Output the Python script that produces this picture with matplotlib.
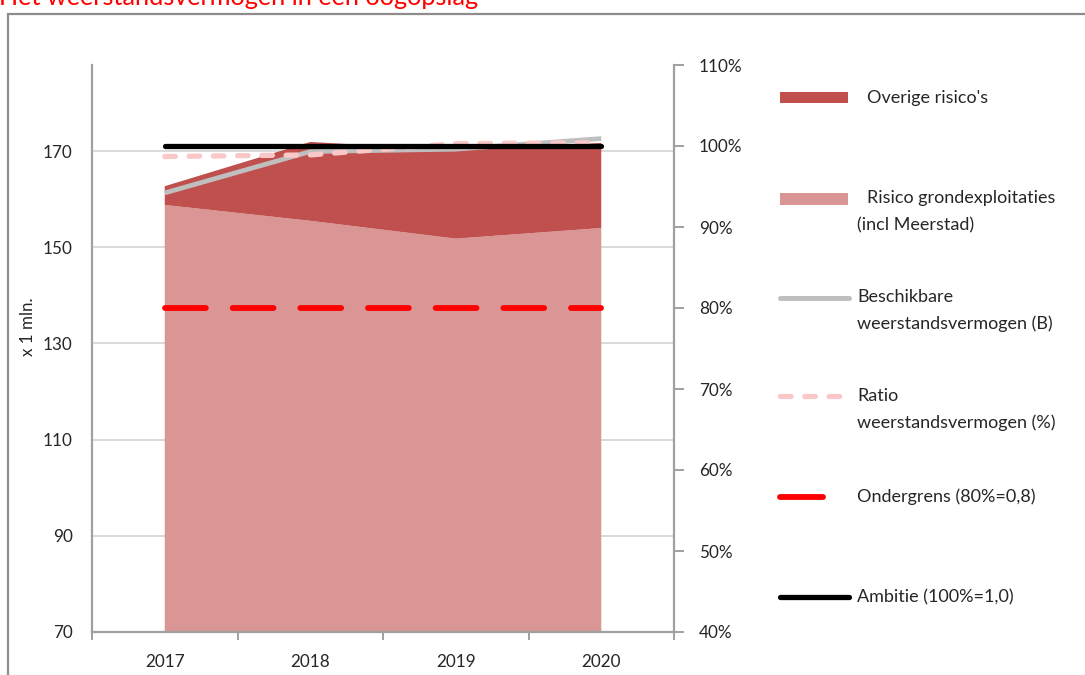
import matplotlib
matplotlib.use("Agg")
import matplotlib.pyplot as plt
from matplotlib.lines import Line2D
from matplotlib.patches import Rectangle

# ---- data ----
years = ["2017", "2018", "2019", "2020"]
risico_grondexploitaties = [158.8, 155.5, 151.8, 154.0]   # x 1 mln
overige_risicos = [3.9, 16.4, 18.4, 17.7]                  # x 1 mln (stacked)
beschikbaar_weerstandsvermogen = [161.3, 169.9, 170.4, 172.6]
ratio_weerstandsvermogen = [98.7, 98.9, 100.3, 100.4]      # %
ondergrens = [80, 80, 80, 80]                              # %
ambitie = [100, 100, 100, 100]                             # %
left_ticks = [70, 90, 110, 130, 150, 170]
right_ticks = [40, 50, 60, 70, 80, 90, 100, 110]

title = "Het weerstandsvermogen in een oogopslag"
ylabel = "x 1 mln."
legend_labels = ["Overige risico's",
                 "Risico grondexploitaties",
                 "(incl Meerstad)",
                 "Beschikbare",
                 "weerstandsvermogen (B)",
                 "Ratio",
                 "weerstandsvermogen (%)",
                 "Ondergrens (80%=0,8)",
                 "Ambitie (100%=1,0)"]

FONT = ["Lato", "DejaVu Sans"]
plt.rcParams["font.family"] = FONT

W, H = 1085, 675
fig = plt.figure(figsize=(W / 100, H / 100), dpi=100)

def fx(px):
    return px / W

def fy(py):
    return 1 - py / H

C_DARK = "#C0504D"
C_LIGHT = "#D99694"
C_GRAY = "#BFBFBF"
C_PINK = "#FAC8C8"
C_RED = "#FF0000"
C_AX = "#A0A0A0"
C_TXT = "#262626"
TICK_FS = 12.3
LEG_FS = 13

# outer chart frame
fig.add_artist(Rectangle((fx(8), fy(700)), fx(1200), fy(14) - fy(700),
                         transform=fig.transFigure, fill=False,
                         edgecolor="#8C8C8C", linewidth=1.6))
# title (cut off at top like the reference)
fig.text(fx(-1), fy(5), title, color="#FF0000", fontsize=18.2,
         ha="left", va="baseline")

ax = fig.add_axes([fx(92), fy(632), fx(674) - fx(92), fy(65) - fy(632)])
x = list(range(len(years)))

ax.stackplot(x, risico_grondexploitaties, overige_risicos,
             colors=[C_LIGHT, C_DARK], linewidth=0, zorder=2)
ax.plot(x, beschikbaar_weerstandsvermogen, color=C_GRAY, lw=3.4,
        solid_capstyle="butt", zorder=3)

ax.set_xlim(-0.5, len(years) - 0.5)
ax.set_ylim(70, 187.9)
ax.set_yticks(left_ticks)
ax.set_yticklabels([str(v) for v in left_ticks])
ax.grid(axis="y", color="#D9D9D9", lw=1.4)
ax.set_axisbelow(True)
ax.set_xticks([i - 0.5 for i in range(len(years) + 1)], minor=False)
ax.set_xticklabels([""] * (len(years) + 1))
ax.set_xticks(x, minor=True)
ax.set_xticklabels(years, minor=True)
ax.tick_params(axis="x", which="major", length=6, width=1.4, color=C_AX,
               direction="out")
ax.tick_params(axis="x", which="minor", length=0, pad=16, labelsize=TICK_FS,
               labelcolor=C_TXT)
ax.tick_params(axis="y", length=0, pad=14, labelsize=TICK_FS, labelcolor=C_TXT)
for s in ["top", "right"]:
    ax.spines[s].set_visible(False)
for s in ["left", "bottom"]:
    ax.spines[s].set_color(C_AX)
    ax.spines[s].set_linewidth(1.6)
fig.text(fx(28), fy(327), ylabel, rotation=90, fontsize=12.2, color=C_TXT,
         ha="center", va="center")

ax2 = ax.twinx()
ax2.set_ylim(40, 110)
ax2.set_yticks(right_ticks)
ax2.set_yticklabels([f"{v}%" for v in right_ticks])
ax2.tick_params(axis="y", length=7, width=1.4, color=C_AX, pad=11,
                labelsize=TICK_FS, labelcolor=C_TXT)
for s in ["top", "left", "bottom"]:
    ax2.spines[s].set_visible(False)
ax2.spines["right"].set_color(C_AX)
ax2.spines["right"].set_linewidth(1.6)

ax2.plot(x, ondergrens, color=C_RED, lw=4.2, dashes=(7.0, 4.6),
         dash_capstyle="round", zorder=3)
ax2.plot(x, ratio_weerstandsvermogen, color=C_PINK, lw=3.8, dashes=(2.0, 2.6),
         dash_capstyle="round", zorder=4)
ax2.plot(x, ambitie, color="black", lw=3.8, solid_capstyle="round", zorder=5)

# ---- legend (manual, figure coordinates) ----
def leg_rect(x0, x1, y0, y1, color):
    fig.add_artist(Rectangle((fx(x0), fy(y1)), fx(x1) - fx(x0), fy(y0) - fy(y1),
                             transform=fig.transFigure, color=color, lw=0))

def leg_line(x0, x1, y, **kw):
    fig.add_artist(Line2D([fx(x0), fx(x1)], [fy(y), fy(y)],
                          transform=fig.transFigure, **kw))

def leg_text(px, py, s):
    fig.text(fx(px), fy(py), s, fontsize=LEG_FS, color=C_TXT, ha="left",
             va="center")

leg_rect(780, 848, 92, 103, C_DARK)
leg_text(867, 98, legend_labels[0])
leg_rect(780, 848, 193, 205, C_LIGHT)
leg_text(867, 198, legend_labels[1])
leg_text(857, 225, legend_labels[2])
leg_line(780, 849, 298, color=C_GRAY, lw=3.6, solid_capstyle="round")
leg_text(857, 297, legend_labels[3])
leg_text(857, 324, legend_labels[4])
leg_line(780, 842, 396, color=C_PINK, lw=3.8, dashes=(2.0, 2.6),
         dash_capstyle="round")
leg_text(857, 396, legend_labels[5])
leg_text(857, 423, legend_labels[6])
leg_line(780, 823, 497, color=C_RED, lw=4.2, solid_capstyle="round")
leg_text(857, 497, legend_labels[7])
leg_line(780, 849, 597, color="black", lw=3.8, solid_capstyle="round")
leg_text(857, 597, legend_labels[8])

fig.savefig("out.png", dpi=100)
